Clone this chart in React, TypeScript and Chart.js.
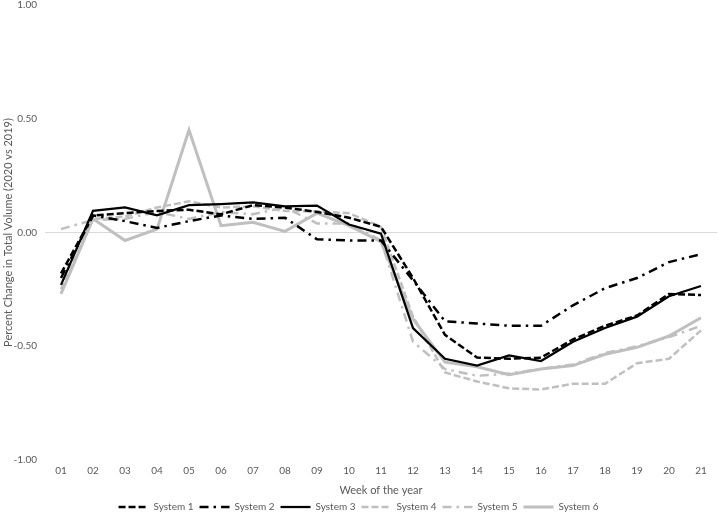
import React, { useEffect, useRef } from "react";
import { Chart, registerables } from "chart.js";

Chart.register(...registerables);

const weeks = ["01", "02", "03", "04", "05", "06", "07", "08", "09", "10", "11", "12", "13", "14", "15", "16", "17", "18", "19", "20", "21"];

const system1 = [-0.18, 0.075, 0.085, 0.095, 0.1, 0.08, 0.12, 0.11, 0.09, 0.065, 0.025, -0.2, -0.45, -0.55, -0.555, -0.55, -0.47, -0.41, -0.365, -0.27, -0.275];
const system2 = [-0.2, 0.075, 0.05, 0.02, 0.05, 0.075, 0.06, 0.065, -0.03, -0.035, -0.035, -0.21, -0.39, -0.4, -0.41, -0.41, -0.32, -0.245, -0.2, -0.13, -0.095];
const system3 = [-0.23, 0.095, 0.11, 0.075, 0.12, 0.125, 0.132, 0.115, 0.118, 0.035, -0.005, -0.42, -0.555, -0.585, -0.54, -0.565, -0.48, -0.42, -0.37, -0.28, -0.235];
const system4 = [-0.25, 0.06, 0.07, 0.11, 0.137, 0.11, 0.115, 0.095, 0.093, 0.085, 0.025, -0.37, -0.615, -0.655, -0.685, -0.69, -0.665, -0.665, -0.575, -0.555, -0.43];
const system5 = [0.015, 0.055, 0.06, 0.09, 0.06, 0.09, 0.08, 0.11, 0.04, 0.04, -0.035, -0.48, -0.6, -0.63, -0.62, -0.6, -0.58, -0.53, -0.5, -0.46, -0.41];
const system6 = [-0.27, 0.06, -0.035, 0.015, 0.45, 0.03, 0.045, 0.005, 0.085, 0.03, -0.04, -0.38, -0.57, -0.59, -0.625, -0.6, -0.585, -0.535, -0.505, -0.455, -0.375];

const seriesNames = ["System 1", "System 2", "System 3", "System 4", "System 5", "System 6"];
const yTicks = [-1, -0.5, 0, 0.5, 1];

const BLACK = "#000000";
const GRAY = "#bfbfbf";
const TEXT = "#595959";
const FONT = "Lato, 'Open Sans', sans-serif";

export default function App() {
  const canvasRef = useRef<HTMLCanvasElement | null>(null);

  useEffect(() => {
    const canvas = canvasRef.current;
    if (!canvas) return;
    const styles = [
      { data: system1, color: BLACK, width: 2.5, dash: [7, 3] },
      { data: system2, color: BLACK, width: 2.5, dash: [9, 5, 2.5, 5] },
      { data: system3, color: BLACK, width: 2.25, dash: [] },
      { data: system4, color: GRAY, width: 2.5, dash: [7, 3] },
      { data: system5, color: GRAY, width: 2.5, dash: [9, 5, 2.5, 5] },
      { data: system6, color: GRAY, width: 3, dash: [] },
    ];
    const chart = new Chart(canvas, {
      type: "line",
      data: {
        labels: weeks,
        datasets: styles.map((s, i) => ({
          label: seriesNames[i],
          data: s.data,
          borderColor: s.color,
          backgroundColor: s.color,
          borderWidth: s.width,
          borderDash: s.dash,
          pointRadius: 0,
          pointHoverRadius: 0,
          tension: 0,
          fill: false,
        })),
      },
      options: {
        animation: false,
        responsive: true,
        maintainAspectRatio: false,
        layout: { padding: { left: 0, right: 2, top: 0, bottom: 0 } },
        plugins: {
          tooltip: { enabled: false },
          legend: {
            position: "bottom",
            labels: {
              usePointStyle: true,
              pointStyle: "line",
              pointStyleWidth: 30,
              boxHeight: 10,
              padding: 6,
              color: TEXT,
              font: { family: FONT, size: 10 },
              generateLabels: (c: any) =>
                c.data.datasets.map((ds: any, i: number) => ({
                  text: ds.label,
                  fillStyle: ds.borderColor,
                  strokeStyle: ds.borderColor,
                  lineWidth: ds.borderWidth,
                  lineDash: ds.borderDash,
                  lineCap: "butt",
                  pointStyle: "line",
                  hidden: false,
                  datasetIndex: i,
                  fontColor: TEXT,
                })),
            },
          },
        },
        scales: {
          x: {
            type: "category",
            offset: true,
            grid: { display: false, drawTicks: false },
            border: { display: false },
            ticks: { color: TEXT, font: { family: FONT, size: 10 }, padding: 5, maxRotation: 0, autoSkip: false },
            title: { display: true, text: "Week of the year", color: TEXT, font: { family: FONT, size: 11, lineHeight: 1 }, padding: { top: 3, bottom: 0 } },
          },
          y: {
            min: -1,
            max: 1,
            afterFit: (scale: any) => {
              scale.width = 45;
              scale.paddingTop = 5;
              scale.paddingBottom = 0;
            },
            afterBuildTicks: (scale: any) => {
              scale.ticks = yTicks.map((v) => ({ value: v }));
            },
            grid: {
              drawTicks: false,
              color: (ctx: any) => (ctx.tick && ctx.tick.value === 0 ? "#d9d9d9" : "rgba(0,0,0,0)"),
              lineWidth: 1,
            },
            border: { display: false },
            ticks: {
              color: TEXT,
              font: { family: FONT, size: 10 },
              padding: 8,
              callback: (v: any) => Number(v).toFixed(2),
            },
            title: {
              display: true,
              text: "Percent Change in Total Volume (2020 vs 2019)",
              color: TEXT,
              font: { family: FONT, size: 11 },
              padding: { top: 2, bottom: 0 },
            },
          },
        },
      },
    });
    return () => chart.destroy();
  }, []);

  return (
    <div style={{ position: "fixed", left: 0, top: 0, width: 719, height: 522, background: "#fff" }}>
      <canvas ref={canvasRef} />
    </div>
  );
}
